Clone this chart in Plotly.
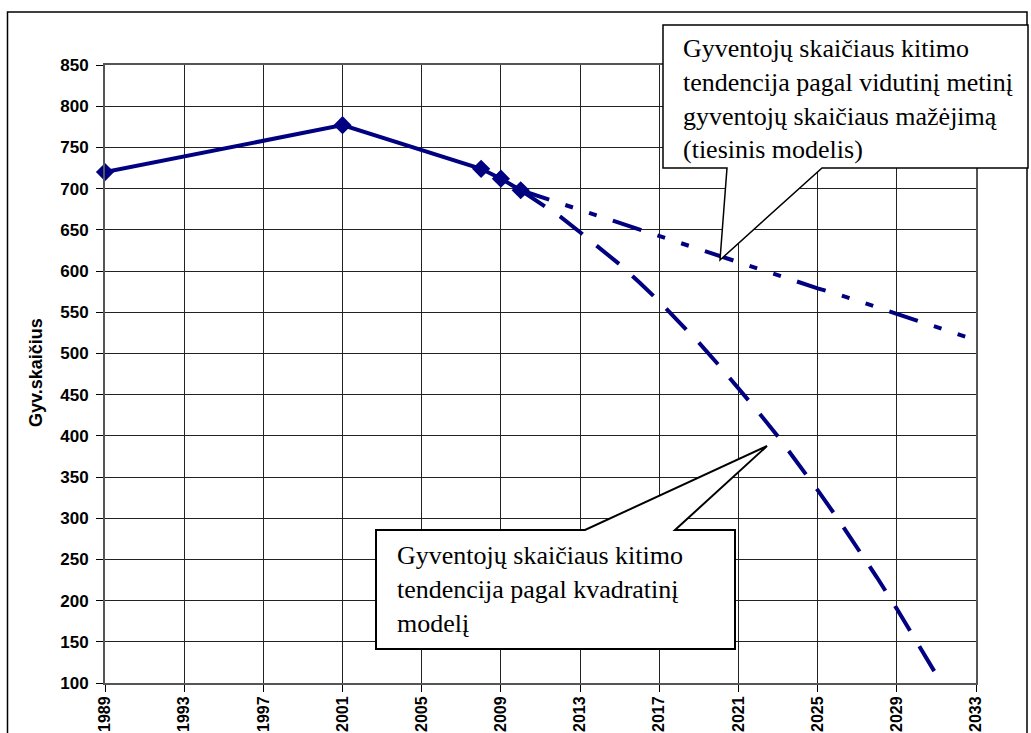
import plotly.graph_objects as go

# ---- data ----
years_actual = [1989, 2001, 2008, 2009, 2010]
pop_actual = [720, 777, 724, 712, 698]

years_linear = [2010, 2011, 2012, 2013, 2014, 2015, 2016, 2017, 2018, 2019, 2020, 2021,
                2022, 2023, 2024, 2025, 2026, 2027, 2028, 2029, 2030, 2031, 2032, 2033]
pop_linear = [698, 690, 682, 674, 666, 658, 651, 643, 635, 627, 619, 611,
              603, 595, 587, 579, 572, 564, 556, 548, 540, 532, 524, 516]

years_quad = [2010, 2011, 2012, 2013, 2014, 2015, 2016, 2017, 2018, 2019, 2020, 2021,
              2022, 2023, 2024, 2025, 2026, 2027, 2028, 2029, 2030, 2031, 2032]
pop_quad = [698, 682, 666, 647, 628, 608, 586, 563, 538, 513, 486, 458,
            429, 399, 367, 334, 300, 265, 228, 190, 151, 111, 70]

x_ticks = [1989, 1993, 1997, 2001, 2005, 2009, 2013, 2017, 2021, 2025, 2029, 2033]
y_ticks = list(range(100, 851, 50))

y_title = "Gyv.skaičius"
callout_linear = ("Gyventojų skaičiaus kitimo<br>tendencija pagal vidutinį metinį<br>"
                  "gyventojų skaičiaus mažėjimą<br>(tiesinis modelis)")
callout_quad = "Gyventojų skaičiaus kitimo<br>tendencija pagal kvadratinį<br>modelį"

# ---- layout geometry (screen pixels) ----
W, H = 1031, 733
L, R, T, B = 105, 976, 65, 683


def px(x):
    return (x - L) / (R - L)


def py(y):
    return (B - y) / (B - T)


NAVY = "#000080"

fig = go.Figure()
fig.add_trace(go.Scatter(
    x=years_linear, y=pop_linear, mode="lines",
    line=dict(color=NAVY, width=4, dash="30px,17px,8px,17px,8px,17px"),
    showlegend=False, hoverinfo="x+y"))
fig.add_trace(go.Scatter(
    x=years_quad, y=pop_quad, mode="lines",
    line=dict(color=NAVY, width=4, dash="29px,18px"),
    showlegend=False, hoverinfo="x+y"))
fig.add_trace(go.Scatter(
    x=years_actual, y=pop_actual, mode="lines+markers",
    line=dict(color=NAVY, width=4),
    marker=dict(symbol="diamond", size=14, color=NAVY),
    cliponaxis=False, showlegend=False, hoverinfo="x+y"))

y_tick_font = dict(family="Liberation Sans, Arial, sans-serif", size=17, color="black", weight="bold")
x_tick_font = dict(family="Liberation Sans, Arial, sans-serif", size=16, color="black", weight="bold")
GRID = "#222222"

fig.update_xaxes(
    range=[1989, 2033], tickvals=x_ticks, tickangle=-90,
    ticks="outside", ticklen=7, tickcolor="black", tickwidth=1,
    showgrid=True, gridcolor=GRID, gridwidth=1,
    showline=True, linecolor="#555555", linewidth=2, mirror=True,
    zeroline=False, tickfont=x_tick_font, ticklabelstandoff=-2, automargin=False)
fig.update_yaxes(
    range=[100, 850], tickvals=y_ticks,
    ticks="outside", ticklen=7, tickcolor="black", tickwidth=1,
    showgrid=True, gridcolor=GRID, gridwidth=1,
    showline=True, linecolor="#555555", linewidth=2, mirror=True,
    zeroline=False, tickfont=y_tick_font, ticklabelstandoff=4, automargin=False)


def path(points):
    s = "M " + " L ".join(f"{px(x):.5f},{py(y):.5f}" for x, y in points) + " Z"
    return s


shapes = [
    # outer chart frame
    dict(type="rect", xref="paper", yref="paper",
         x0=px(7.5), x1=px(1027), y0=py(770), y1=py(12),
         line=dict(color="black", width=1.5), fillcolor="rgba(0,0,0,0)", layer="above"),
    # callout for linear model
    dict(type="path", xref="paper", yref="paper", layer="above",
         path=path([(663, 25), (1028, 25), (1028, 168), (822, 168), (720, 260),
                    (727, 168), (663, 168)]),
         line=dict(color="black", width=1.5), fillcolor="white"),
    # callout for quadratic model
    dict(type="path", xref="paper", yref="paper", layer="above",
         path=path([(376, 530), (585, 530), (767, 446), (675, 530), (735, 530),
                    (735, 649), (376, 649)]),
         line=dict(color="black", width=2), fillcolor="white"),
]

serif = dict(family="Liberation Serif, Times New Roman, serif", size=26, color="black")
annotations = [
    dict(text=y_title, xref="paper", yref="paper", x=px(36), y=py(373),
         xanchor="center", yanchor="middle", textangle=-90, showarrow=False,
         font=dict(family="Liberation Sans, Arial, sans-serif", size=18, color="black",
                   weight="bold")),
    dict(text=callout_linear, xref="paper", yref="paper", x=px(681), y=py(99),
         xanchor="left", yanchor="middle", align="left", showarrow=False, font=serif),
    dict(text=callout_quad, xref="paper", yref="paper", x=px(395), y=py(589),
         xanchor="left", yanchor="middle", align="left", showarrow=False, font=serif),
]

fig.update_layout(
    width=W, height=H, autosize=False,
    margin=dict(l=L, r=W - R, t=T, b=H - B, pad=0, autoexpand=False),
    paper_bgcolor="white", plot_bgcolor="white",
    shapes=shapes, annotations=annotations, showlegend=False)

# remove the default page margin so the figure fills the 1031x733 window exactly
fig.write_html(
    "out.html",
    config={"displayModeBar": False},
    post_script="document.body.style.margin='0';document.body.style.overflow='hidden';")
